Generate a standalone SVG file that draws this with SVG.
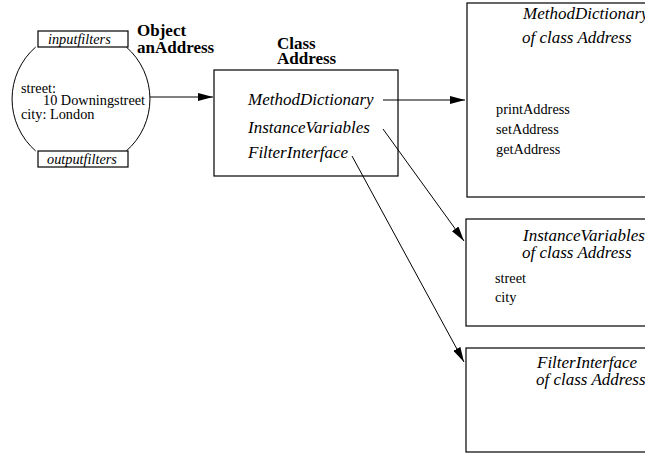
<svg xmlns="http://www.w3.org/2000/svg" width="645" height="455" viewBox="0 0 645 455" font-family="'Liberation Serif', 'Times New Roman', serif">
  <style>
    text { font-family: "Liberation Serif", "Times New Roman", serif; fill: #000; }
    .it { font-style: italic; }
    .title { font-weight: bold; font-size: 17px; }
    .lbl { font-size: 17px; font-style: italic; }
    .sm { font-size: 14.3px; }
    .box { fill: #fff; stroke: #000; stroke-width: 1.2; }
    .edge { fill: none; stroke: #000; stroke-width: 1; }
  </style>
  <defs>
    <marker id="arrow" markerWidth="15" markerHeight="8" refX="15" refY="4" orient="auto" markerUnits="userSpaceOnUse">
      <path d="M0,0 L15,4 L0,8 Z" fill="#000"/>
    </marker>
  </defs>
  <rect width="645" height="455" fill="#fff"/>

  <!-- object instance anAddress -->
  <g id="object-anAddress">
    <path class="edge" d="M35.7,47 A69,69 0 0 0 35.7,151"/>
    <path class="edge" d="M126.3,47 A69,69 0 0 1 126.3,151"/>
    <rect class="box" x="38" y="31" width="90" height="16"/>
    <text class="sm it" x="48" y="44">inputfilters</text>
    <rect class="box" x="38" y="151" width="90" height="16"/>
    <text class="sm it" x="47" y="163.5">outputfilters</text>
    <text class="sm" x="21" y="93">street:</text>
    <text class="sm" x="43" y="104.5">10 Downingstreet</text>
    <text class="sm" x="21" y="118.5">city: London</text>
    <text class="title" x="137" y="35.5">Object</text>
    <text class="title" x="137" y="52.5">anAddress</text>
  </g>

  <!-- class Address -->
  <g id="class-Address">
    <text class="title" x="277" y="48.5">Class</text>
    <text class="title" x="277" y="63.5">Address</text>
    <rect class="box" x="214" y="70" width="184" height="106"/>
    <text class="lbl" x="248" y="105">MethodDictionary</text>
    <text class="lbl" x="248" y="133">InstanceVariables</text>
    <text class="lbl" x="248" y="158">FilterInterface</text>
  </g>

  <!-- method dictionary -->
  <g id="method-dictionary">
    <rect class="box" x="467" y="3" width="200" height="194"/>
    <text class="lbl" x="523" y="19">MethodDictionary</text>
    <text class="lbl" x="522" y="42.5">of class Address</text>
    <text class="sm" x="496" y="113.5">printAddress</text>
    <text class="sm" x="496" y="134">setAddress</text>
    <text class="sm" x="496" y="154">getAddress</text>
  </g>

  <!-- instance variables -->
  <g id="instance-variables">
    <rect class="box" x="466" y="219" width="200" height="107"/>
    <text class="lbl" x="523" y="241">InstanceVariables</text>
    <text class="lbl" x="522" y="258">of class Address</text>
    <text class="sm" x="495" y="283">street</text>
    <text class="sm" x="495" y="302">city</text>
  </g>

  <!-- filter interface -->
  <g id="filter-interface">
    <rect class="box" x="466" y="348" width="200" height="104"/>
    <text class="lbl" x="537" y="368">FilterInterface</text>
    <text class="lbl" x="536" y="385">of class Address</text>
  </g>

  <!-- connectors -->
  <g id="connectors">
    <line class="edge" x1="150" y1="97" x2="213" y2="97" marker-end="url(#arrow)"/>
    <line class="edge" x1="383" y1="100" x2="465" y2="100" marker-end="url(#arrow)"/>
    <line class="edge" x1="383" y1="129" x2="464" y2="241" marker-end="url(#arrow)"/>
    <line class="edge" x1="352" y1="156" x2="464" y2="362" marker-end="url(#arrow)"/>
  </g>
</svg>
